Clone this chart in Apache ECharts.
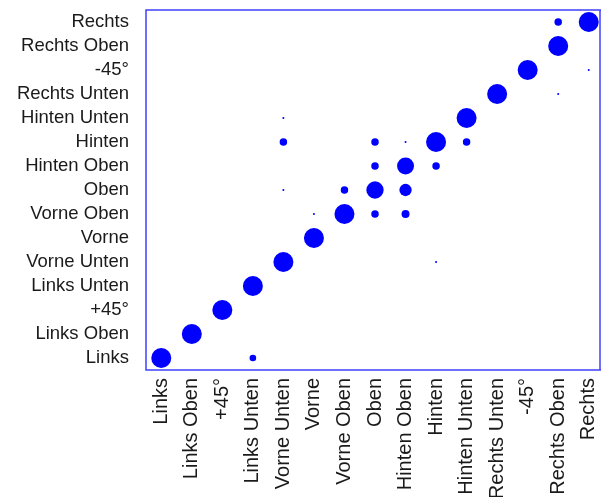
<!DOCTYPE html>
<html>
<head>
<meta charset="utf-8">
<script src="https://cdn.jsdelivr.net/npm/echarts@6/dist/echarts.min.js"></script>
<style>
html,body{margin:0;padding:0;background:#fff;}
#chart{width:601px;height:497px;}
</style>
</head>
<body>
<div id="chart"></div>
<script>
// Categories (x from left to right, y from bottom to top)
var categories = ['Links','Links Oben','+45°','Links Unten','Vorne Unten','Vorne','Vorne Oben','Oben','Hinten Oben','Hinten','Hinten Unten','Rechts Unten','-45°','Rechts Oben','Rechts'];
// Diagonal values (same category on x and y)
var diagonalValues = [100,100,100,100,100,100,100,75,72,100,100,100,100,100,100];
// Off-diagonal cells: [x index, y index, value]
var offDiagonal = [
  [13,14,14],
  [14,12,1],
  [13,11,1],
  [4,10,1],
  [4,9,14],
  [7,9,14],
  [8,9,1],
  [10,9,14],
  [7,8,14],
  [9,8,14],
  [4,7,1],
  [6,7,14],
  [8,7,38],
  [5,6,1],
  [7,6,14],
  [8,6,16],
  [9,4,1],
  [3,0,11]
];

var data = [];
diagonalValues.forEach(function(v,i){ data.push([categories[i],categories[i],v]); });
offDiagonal.forEach(function(d){ data.push([categories[d[0]],categories[d[1]],d[2]]); });

var chart = echarts.init(document.getElementById('chart'));
var font = 'Liberation Sans, Arial, sans-serif';
chart.setOption({
  animation:false,
  grid:{left:146, top:10, bottom:127, right:-3, show:true, containLabel:false, outerBoundsMode:'none',
    borderColor:'#3f3fff', borderWidth:1.5, backgroundColor:'#fff'},
  xAxis:{type:'category', data:categories,
    axisLine:{show:false}, axisTick:{show:false}, splitLine:{show:false},
    axisLabel:{rotate:90, margin:8, interval:0, color:'#1a1a1a', fontFamily:font, fontSize:20}},
  yAxis:{type:'category', data:categories,
    axisLine:{show:false}, axisTick:{show:false}, splitLine:{show:false},
    axisLabel:{margin:17, interval:0, color:'#1a1a1a', fontFamily:font, fontSize:18.5}},
  graphic:[{type:'line', shape:{x1:600,y1:10,x2:600,y2:370}, style:{stroke:'#3f3fff', lineWidth:1.5}}],
  series:[{
    type:'scatter',
    data:data,
    symbol:'circle',
    symbolSize:function(d){ return 2.0*Math.sqrt(d[2]); },
    itemStyle:{color:'#0000ff', opacity:1}
  }]
});
</script>
</body>
</html>
